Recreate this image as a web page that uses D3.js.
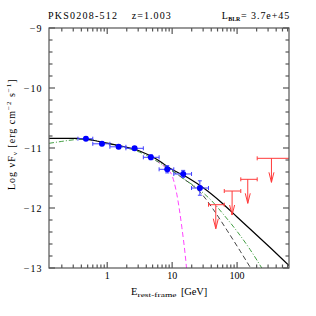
<!DOCTYPE html>
<html>
<head>
<meta charset="utf-8">
<script src="https://cdn.jsdelivr.net/npm/d3@7"></script>
<style>
body { margin: 0; background: #fff; }
svg { display: block; font-family: "Liberation Serif", serif; }
</style>
</head>
<body>
<svg id="drawing_region"></svg>
<script>
// Fermi points (rest-frame energy in GeV, log nuFnu)
const pointE   = [0.47, 0.83, 1.5, 2.64, 4.7, 8.4, 14.8, 26.7];
const pointElo = [0.354, 0.60, 1.1, 1.94, 3.6, 6.3, 10.6, 19.9];
const pointEhi = [0.60, 1.1, 1.94, 3.6, 6.3, 10.6, 19.9, 36.3];
const pointF   = [-10.845, -10.93, -10.98, -11.005, -11.155, -11.355, -11.433, -11.667];
const pointErr = [0.03, 0.03, 0.03, 0.03, 0.04, 0.06, 0.06, 0.12];

// upper limits
const ulE   = [47, 83.8, 146, 338];
const ulElo = [36.3, 63.5, 114, 204];
const ulEhi = [63.5, 114, 204, 640];
const ulF   = [-11.945, -11.717, -11.522, -11.172];

// model curves
const blackE = [0.127, 0.355, 0.631, 1, 1.78, 3.16, 5.62, 10, 17.8, 31.6, 56.2, 100, 178, 316, 631];
const blackF = [-10.838, -10.840, -10.875, -10.92, -10.975, -11.05, -11.18, -11.36, -11.50, -11.68, -11.90, -12.15, -12.40, -12.65, -12.96];

const greenE = [0.127, 0.2, 0.316, 0.5, 1, 1.78, 3.16, 5.62, 10, 15.8, 25.1, 39.8, 63.1, 100, 158, 240];
const greenF = [-10.922, -10.89, -10.862, -10.855, -10.925, -10.985, -11.07, -11.21, -11.38, -11.53, -11.68, -11.87, -12.12, -12.39, -12.69, -13.0];

const dashE = [10, 15.8, 20, 28.2, 44.7, 70.8, 112, 166];
const dashF = [-11.38, -11.53, -11.61, -11.76, -12.05, -12.38, -12.72, -13.02];

const pinkE = [5.62, 8.28, 9.89, 11.8, 14.1, 16.2, 16.8];
const pinkF = [-11.21, -11.35, -11.45, -11.77, -12.32, -12.87, -13.05];

const xTickLabels = [1, 10, 100];
const yTickLabels = [-13, -12, -11, -10, -9];

class SedChart {
    constructor(config) {
        this.config = config;
        this.init();
    }

    init() {
        let self = this;
        let c = self.config;
        self.svg = d3.select(c.parent)
            .attr('width', c.width)
            .attr('height', c.height);

        self.x = d3.scaleLog()
            .domain([0.127, 630])
            .range([c.margin.left, c.margin.left + c.inner]);
        self.y = d3.scaleLinear()
            .domain([-13, -9])
            .range([c.margin.top + c.inner, c.margin.top]);

        self.svg.append('clipPath').attr('id', 'clip')
            .append('rect')
            .attr('x', c.margin.left).attr('y', c.margin.top)
            .attr('width', c.inner).attr('height', c.inner);

        self.plot = self.svg.append('g').attr('clip-path', 'url(#clip)');
    }

    curve(E, F, color, dash, width) {
        let self = this;
        const line = d3.line()
            .x(d => self.x(d[0]))
            .y(d => self.y(d[1]))
            .curve(d3.curveMonotoneX);
        self.plot.append('path')
            .attr('d', line(d3.zip(E, F)))
            .attr('fill', 'none')
            .attr('stroke', color)
            .attr('stroke-width', width)
            .attr('stroke-dasharray', dash);
    }

    render() {
        let self = this;
        let c = self.config;
        const x = self.x, y = self.y;
        const x0 = c.margin.left, x1 = c.margin.left + c.inner;
        const y0 = c.margin.top + c.inner, y1 = c.margin.top;

        self.curve(pinkE, pinkF, '#ff44ff', '5,3', 1);
        self.curve(dashE, dashF, '#444', '5,3', 1);
        self.curve(greenE, greenF, '#44a044', '5,2,1,2', 1);
        self.curve(blackE, blackF, '#000', null, 1.2);

        // points
        const pts = self.svg.append('g');
        pointE.forEach((e, i) => {
            const g = pts.append('g').attr('stroke', '#4040ff').attr('stroke-width', 1);
            const cy = y(pointF[i]);
            g.append('line').attr('x1', x(pointElo[i])).attr('x2', x(pointEhi[i]))
                .attr('y1', cy).attr('y2', cy);
            [pointElo[i], pointEhi[i]].forEach(v => {
                g.append('line').attr('x1', x(v)).attr('x2', x(v))
                    .attr('y1', cy - 2).attr('y2', cy + 2);
            });
            const ya = y(pointF[i] + pointErr[i]), yb = y(pointF[i] - pointErr[i]);
            g.append('line').attr('x1', x(e)).attr('x2', x(e)).attr('y1', ya).attr('y2', yb);
            g.append('line').attr('x1', x(e) - 2).attr('x2', x(e) + 2).attr('y1', ya).attr('y2', ya);
            g.append('line').attr('x1', x(e) - 2).attr('x2', x(e) + 2).attr('y1', yb).attr('y2', yb);
            pts.append('circle').attr('cx', x(e)).attr('cy', cy).attr('r', 3)
                .attr('fill', '#0000ff');
        });

        // upper limits
        const ul = self.plot.append('g').attr('stroke', '#ff3a3a').attr('stroke-width', 1).attr('fill', 'none');
        ulE.forEach((e, i) => {
            const cy = y(ulF[i]);
            const tip = y(ulF[i] - 0.4);
            ul.append('line').attr('x1', x(ulElo[i])).attr('x2', x(ulEhi[i])).attr('y1', cy).attr('y2', cy);
            [ulElo[i], ulEhi[i]].forEach(v => {
                ul.append('line').attr('x1', x(v)).attr('x2', x(v)).attr('y1', cy - 2).attr('y2', cy + 2);
            });
            ul.append('line').attr('x1', x(e)).attr('x2', x(e)).attr('y1', cy).attr('y2', tip);
            ul.append('path')
                .attr('d', `M${x(e) - 2.5},${tip - 10}L${x(e)},${tip}L${x(e) + 2.5},${tip - 10}`);
        });

        // frame and ticks
        const ax = self.svg.append('g').attr('stroke', '#555').attr('stroke-width', 1.2);
        ax.append('rect').attr('x', x0).attr('y', y1).attr('width', c.inner).attr('height', c.inner)
            .attr('fill', 'none');
        x.ticks().forEach(t => {
            const major = Math.abs(Math.log10(t) - Math.round(Math.log10(t))) < 1e-6;
            const len = major ? 6 : 3.5;
            ax.append('line').attr('x1', x(t)).attr('x2', x(t)).attr('y1', y0).attr('y2', y0 - len);
            ax.append('line').attr('x1', x(t)).attr('x2', x(t)).attr('y1', y1).attr('y2', y1 + len);
        });
        d3.range(-13, -8.99, 0.2).forEach(t => {
            const major = Math.abs(t - Math.round(t)) < 1e-6;
            const len = major ? 6 : 3.5;
            ax.append('line').attr('x1', x0).attr('x2', x0 + len).attr('y1', y(t)).attr('y2', y(t));
            ax.append('line').attr('x1', x1).attr('x2', x1 - len).attr('y1', y(t)).attr('y2', y(t));
        });

        // tick labels
        self.svg.selectAll('.xl').data(xTickLabels).enter().append('text')
            .attr('x', d => x(d)).attr('y', 278.5)
            .attr('text-anchor', 'middle').attr('font-size', 10)
            .text(d => d);
        self.svg.selectAll('.yl').data(yTickLabels).enter().append('text')
            .attr('x', 42.5).attr('y', d => y(d) + 3.5)
            .attr('text-anchor', 'end').attr('font-size', 10)
            .attr('letter-spacing', 1)
            .text(d => '\u2212' + Math.abs(d));

        // title line
        self.svg.append('text').attr('x', 48).attr('y', 19).attr('font-size', 10)
            .attr('textLength', 69).attr('lengthAdjust', 'spacing').text('PKS0208-512');
        self.svg.append('text').attr('x', 131.7).attr('y', 19).attr('font-size', 10)
            .attr('textLength', 39).attr('lengthAdjust', 'spacing').text('z=1.003');
        self.svg.append('text').attr('x', 221.7).attr('y', 19).attr('font-size', 10).text('L');
        self.svg.append('text').attr('x', 228.3).attr('y', 21).attr('font-size', 6)
            .attr('font-weight', 'bold').attr('textLength', 12).attr('lengthAdjust', 'spacingAndGlyphs').text('BLR');
        self.svg.append('text').attr('x', 241).attr('y', 19).attr('font-size', 10)
            .attr('textLength', 48.3).attr('lengthAdjust', 'spacing').text('= 3.7e+45');

        // x label
        self.svg.append('text').attr('x', 131).attr('y', 294.5).attr('font-size', 10.5).text('E');
        self.svg.append('text').attr('x', 137.5).attr('y', 296.5).attr('font-size', 6.5)
            .attr('textLength', 39).attr('lengthAdjust', 'spacingAndGlyphs').text('rest-frame');
        self.svg.append('text').attr('x', 181).attr('y', 294.5).attr('font-size', 10.5)
            .attr('textLength', 26.3).attr('lengthAdjust', 'spacing').text('[GeV]');

        // y label
        const yl = self.svg.append('text')
            .attr('transform', 'translate(15,190) rotate(-90)')
            .attr('font-size', 10).attr('letter-spacing', 1);
        yl.append('tspan').text('Log \u03BDF');
        yl.append('tspan').attr('font-size', 7).attr('dy', 2).text('\u03BD');
        yl.append('tspan').attr('dy', -2).text(' [erg cm');
        yl.append('tspan').attr('font-size', 7).attr('dy', -4).text('\u22122');
        yl.append('tspan').attr('dy', 4).text(' s');
        yl.append('tspan').attr('font-size', 7).attr('dy', -4).text('\u22121');
        yl.append('tspan').attr('dy', 4).text(']');
    }
}

const chart = new SedChart({
    parent: '#drawing_region',
    width: 316,
    height: 316,
    inner: 240,
    margin: {top: 28, left: 49}
});
chart.render();
</script>
</body>
</html>
